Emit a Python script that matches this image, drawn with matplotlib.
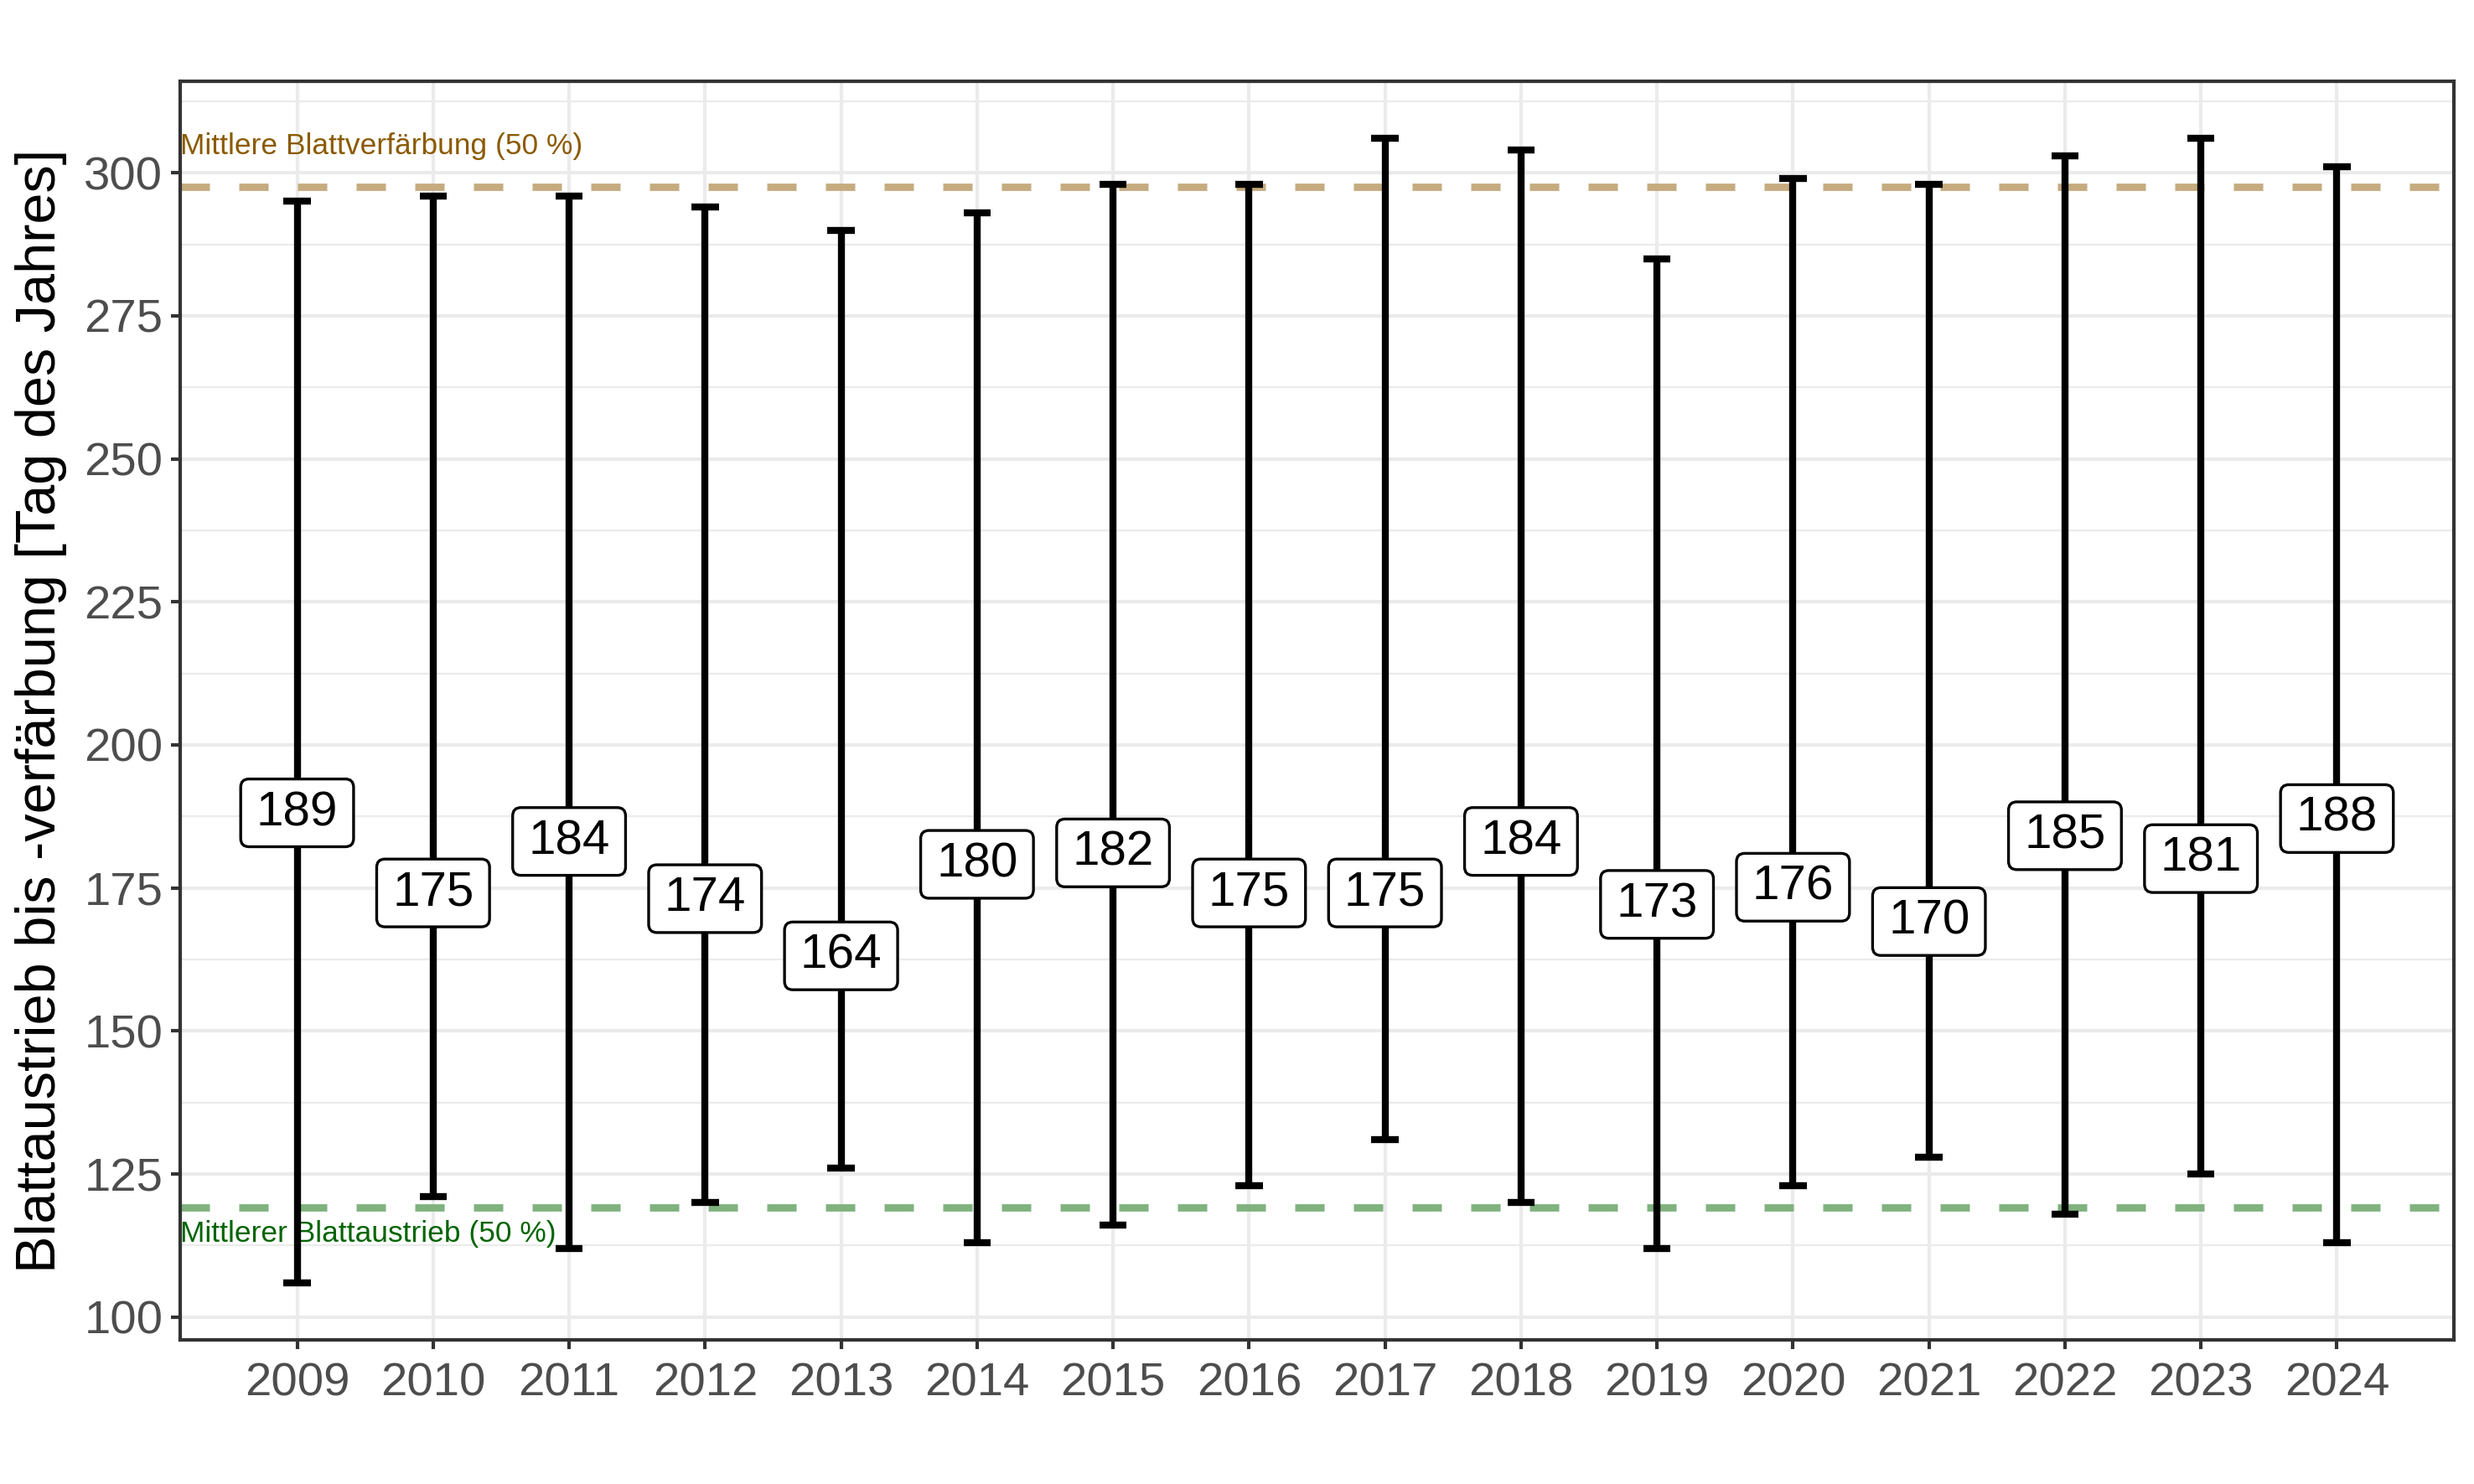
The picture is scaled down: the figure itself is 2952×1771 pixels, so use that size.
import numpy as np
import matplotlib.pyplot as plt
from matplotlib.patches import BoxStyle
from matplotlib.ticker import MultipleLocator

plt.rcParams['font.family'] = ['Liberation Sans', 'DejaVu Sans']

years = np.arange(2009, 2025)
austrieb = [106, 121, 112, 120, 126, 113, 116, 123, 131, 120, 112, 123, 128, 118, 125, 113]
verfaerbung = [295, 296, 296, 294, 290, 293, 298, 298, 306, 304, 285, 299, 298, 303, 306, 301]
dauer = [189, 175, 184, 174, 164, 180, 182, 175, 175, 184, 173, 176, 170, 185, 181, 188]

mittel_austrieb = 119.2
mittel_verfaerbung = 297.6


def label_box(x0, y0, width, height, mutation_size):
    # wider padding left/right than top/bottom, like geom_label
    px = 0.32 * mutation_size
    py = 0.23 * mutation_size
    return BoxStyle.Round(pad=0, rounding_size=0.17)(
        x0 - px, y0 - py, width + 2 * px, height + 2 * py, mutation_size)


fig = plt.figure(figsize=(2952 / 300, 1771 / 300), dpi=300)
ax = fig.add_axes([215 / 2952, 1 - 1599 / 1771, 2713 / 2952, 1502 / 1771])

# grid like theme_bw
ax.set_axisbelow(True)
ax.yaxis.set_major_locator(MultipleLocator(25))
ax.yaxis.set_minor_locator(MultipleLocator(12.5))
ax.set_xticks(years)
ax.grid(which='major', color='#EBEBEB', linewidth=1.0)
ax.grid(which='minor', axis='y', color='#EBEBEB', linewidth=0.55)

# reference lines
ax.axhline(mittel_verfaerbung, color='#C5AB7E', linewidth=2.1, dashes=(4, 4), zorder=1)
ax.axhline(mittel_austrieb, color='#7FB27F', linewidth=2.1, dashes=(4, 4), zorder=1)

trans = ax.get_yaxis_transform()
ax.text(0, 303.2, 'Mittlere Blattverfärbung (50 %)', transform=trans, ha='left',
        va='baseline', fontsize=8.5, color='#8B5A00')
ax.text(0, 113.2, 'Mittlerer Blattaustrieb (50 %)', transform=trans, ha='left',
        va='baseline', fontsize=8.5, color='#006400')

# error bars from leaf-out to colouring
w = 0.1
ax.vlines(years, austrieb, verfaerbung, color='black', linewidth=2.0, zorder=3)
ax.hlines(austrieb, years - w, years + w, color='black', linewidth=2.0, zorder=3)
ax.hlines(verfaerbung, years - w, years + w, color='black', linewidth=2.0, zorder=3)

for x, d in zip(years, dauer):
    ax.text(x, d, str(d), ha='center', va='center_baseline', fontsize=14, color='black',
            zorder=4, bbox=dict(boxstyle=label_box, fc='white', ec='black', lw=0.8))

ax.set_xlim(2008.14, 2024.86)
ax.set_ylim(96, 316)

ax.tick_params(which='major', length=2.75, width=1.0, color='#333333',
               labelsize=13.5, labelcolor='#4D4D4D')
ax.tick_params(axis='x', pad=3.5)
ax.tick_params(axis='y', pad=2.2)
ax.tick_params(which='minor', length=0)
for s in ax.spines.values():
    s.set_color('#333333')
    s.set_linewidth(1.0)

fig.text(49 / 2952, 1 - 848 / 1771, 'Blattaustrieb bis -verfärbung [Tag des Jahres]',
         rotation=90, ha='center', va='center', fontsize=16, color='black')

fig.savefig('out.png', dpi=300, facecolor='white')
